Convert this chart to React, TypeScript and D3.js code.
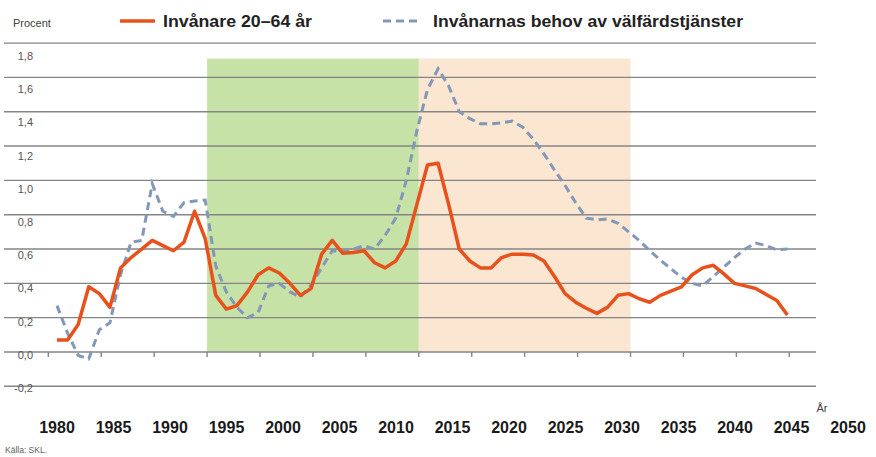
import React from 'react';
import * as d3 from 'd3';

// Årlig förändring, procent
const years = d3.range(1980, 2050);

const invanare = [
  0.07, 0.07, 0.16, 0.38, 0.34, 0.26, 0.49, 0.55, 0.6, 0.65,
  0.62, 0.59, 0.64, 0.82, 0.66, 0.33, 0.25, 0.27, 0.35, 0.45,
  0.49, 0.46, 0.4, 0.33, 0.37, 0.57, 0.65, 0.575, 0.58, 0.59,
  0.52, 0.49, 0.53, 0.63, 0.86, 1.09, 1.1, 0.86, 0.6, 0.53,
  0.49, 0.49, 0.55, 0.57, 0.57, 0.565, 0.53, 0.44, 0.34, 0.29,
  0.255, 0.225, 0.26, 0.33, 0.34, 0.31, 0.29, 0.33, 0.355, 0.38,
  0.45, 0.49, 0.505, 0.455, 0.4, 0.385, 0.37, 0.335, 0.3, 0.215,
];

const behov = [
  0.27, 0.11, -0.02, -0.04, 0.13, 0.17, 0.45, 0.64, 0.65, 0.98,
  0.82, 0.79, 0.87, 0.88, 0.885, 0.5, 0.35, 0.26, 0.2, 0.23,
  0.385, 0.4, 0.35, 0.32, 0.39, 0.49, 0.59, 0.585, 0.6, 0.62,
  0.6, 0.68, 0.78, 1.0, 1.29, 1.53, 1.65, 1.55, 1.4, 1.36,
  1.33, 1.33, 1.335, 1.345, 1.31, 1.24, 1.155, 1.06, 0.97, 0.87,
  0.78, 0.77, 0.775, 0.75, 0.7, 0.65, 0.59, 0.535, 0.485, 0.435,
  0.4, 0.385, 0.44, 0.495, 0.55, 0.6, 0.635, 0.62, 0.595, 0.6,
];

const yTicks = [-0.2, 0, 0.2, 0.4, 0.6, 0.8, 1.0, 1.2, 1.4, 1.6, 1.8];
const xLabels = [1980, 1985, 1990, 1995, 2000, 2005, 2010, 2015, 2020, 2025, 2030, 2035, 2040, 2045, 2050];

// skuggade perioder
const periods = [
  { from: 1995, to: 2015, color: '#c6e2a6' },
  { from: 2015, to: 2035, color: '#fbe6d1' },
];

const W = 876;
const H = 457;

export default function App() {
  const y = d3.scaleLinear().domain([-0.2, 1.8]).range([386.3, 43.1]);
  const yLabel = d3.scaleLinear().domain([-0.2, 1.8]).range([388, 56]);
  const x = d3.scaleLinear().domain([1980, 2049]).range([57, 787.4]);
  const xFrame = d3.scaleLinear().domain([1980, 2050]).range([48.3, 789.3]);
  const xLabel = d3.scaleLinear().domain([1980, 2050]).range([57, 848]);

  const line = d3.line<number>()
    .x((d, i) => x(years[i]))
    .y(d => y(d));

  const fmt = (t: number) => d3.format('.1f')(t).replace('.', ',').replace('\u2212', '-');
  const font = '"Liberation Sans", Arial, sans-serif';

  return (
    <svg width={W} height={H} style={{ position: 'absolute', left: 0, top: 0, background: '#fff' }} fontFamily={font}>
      {periods.map(p => (
        <rect key={p.from} x={xFrame(p.from)} y={y(1.71)} width={xFrame(p.to) - xFrame(p.from)}
          height={y(0) - y(1.71)} fill={p.color} />
      ))}

      {yTicks.map(t => (
        <line key={t} x1={4} x2={816} y1={y(t)} y2={y(t)} stroke="#858585" strokeWidth={1.4} />
      ))}
      {xLabels.map(t => (
        <line key={t} x1={xFrame(t)} x2={xFrame(t)} y1={y(0)} y2={y(0) + 5} stroke="#858585" strokeWidth={1.4} />
      ))}

      {yTicks.map(t => (
        <text key={t} x={33} y={yLabel(t)} textAnchor="end" dominantBaseline="central"
          fontSize={11} fill="#555">{fmt(t)}</text>
      ))}

      <path d={line(behov) || ''} fill="none" stroke="#8397b9" strokeWidth={3} strokeDasharray="8,5" />
      <path d={line(invanare) || ''} fill="none" stroke="#e8501c" strokeWidth={3.5} strokeLinejoin="round" />

      {xLabels.map(t => (
        <text key={t} x={xLabel(t)} y={427} textAnchor="middle" dominantBaseline="central"
          fontSize={16} fontWeight="bold" fill="#1a1a1a">{t}</text>
      ))}
      <text x={822} y={408} textAnchor="middle" dominantBaseline="central" fontSize={11} fill="#404040">År</text>
      <text x={5} y={450} dominantBaseline="central" fontSize={8.5} fill="#606060">Källa: SKL.</text>

      <text x={13} y={23} dominantBaseline="central" fontSize={11} fill="#404040">Procent</text>
      <line x1={120} x2={155} y1={21} y2={21} stroke="#e8501c" strokeWidth={3.5} />
      <text x={163} y={21} dominantBaseline="central" fontSize={16} fontWeight="bold" fill="#222"
        textLength={149} lengthAdjust="spacingAndGlyphs">Invånare 20–64 år</text>
      <line x1={383} x2={418} y1={21} y2={21} stroke="#8397b9" strokeWidth={3} strokeDasharray="8,5" />
      <text x={433} y={21} dominantBaseline="central" fontSize={16} fontWeight="bold" fill="#222"
        textLength={310} lengthAdjust="spacingAndGlyphs">Invånarnas behov av välfärdstjänster</text>
    </svg>
  );
}
